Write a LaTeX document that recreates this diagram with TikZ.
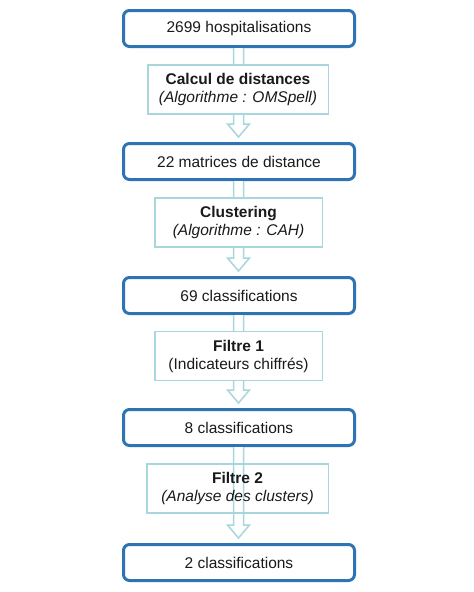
\documentclass[tikz,border=0pt]{standalone}
\usepackage{fontspec}
\setmainfont{Liberation Sans}
\definecolor{boxblue}{HTML}{2E74B5}
\definecolor{lightteal}{HTML}{A8D6DD}
\definecolor{textdark}{HTML}{1A1A1A}
\newcommand{\blockarrow}[2]{%
  \draw[blockarr] ([xshift=-5.5pt,yshift=-1.5pt]#1.south)
    -- ([xshift=-5.5pt,yshift=19.5pt]#2.north)
    -- ([xshift=-11.5pt,yshift=19.5pt]#2.north)
    -- ([xshift=-0.5pt,yshift=6.5pt]#2.north)
    -- ([xshift=10.5pt,yshift=19.5pt]#2.north)
    -- ([xshift=4.5pt,yshift=19.5pt]#2.north)
    -- ([xshift=4.5pt,yshift=-1.5pt]#1.south);}
\begin{document}
\begin{tikzpicture}[x=1pt,y=-1pt,
  mainbox/.style={draw=boxblue,line width=3pt,rounded corners=6pt,fill=white,
    minimum width=231pt,minimum height=36pt,inner sep=0pt,outer sep=0pt,
    text=textdark,font=\fontsize{15.5}{18.5}\selectfont},
  procbox/.style={draw=lightteal,line width=1.5pt,fill=white,minimum height=49pt,
    inner sep=0pt,outer sep=0pt,align=center,text=textdark,
    font=\fontsize{15.5}{18}\selectfont},
  blockarr/.style={draw=lightteal,line width=1.5pt,fill=white,line join=miter}]
\useasboundingbox[fill=white] (0,0) rectangle (474,592);
% main boxes
\node[mainbox] (m1) at (239,28.5) {2699 hospitalisations};
\node[mainbox] (m2) at (239,161.5) {22 matrices de distance};
\node[mainbox] (m3) at (239,295.5) {69 classifications};
\node[mainbox] (m4) at (239,427.5) {8 classifications};
\node[mainbox] (m5) at (239,562.5) {2 classifications};
% arrows
\blockarrow{m1}{m2}
\blockarrow{m2}{m3}
\blockarrow{m3}{m4}
\blockarrow{m4}{m5}
% process boxes
\node[procbox,minimum width=180.5pt] (p1) at (238,89.5)
  {\textbf{Calcul de distances}\\\textit{(Algorithme : OMSpell)}};
\node[procbox,minimum width=167.5pt] (p2) at (238.5,222.5)
  {\textbf{Clustering}\\\textit{(Algorithme : CAH)}};
\node[procbox,minimum width=167.5pt] (p3) at (238.5,356)
  {\textbf{Filtre 1}\\(Indicateurs chiffrés)};
\node[procbox,minimum width=181.5pt,fill=none] (p4) at (237.5,488.5)
  {\textbf{Filtre 2}\\\textit{(Analyse des clusters)}};
\end{tikzpicture}
\end{document}
